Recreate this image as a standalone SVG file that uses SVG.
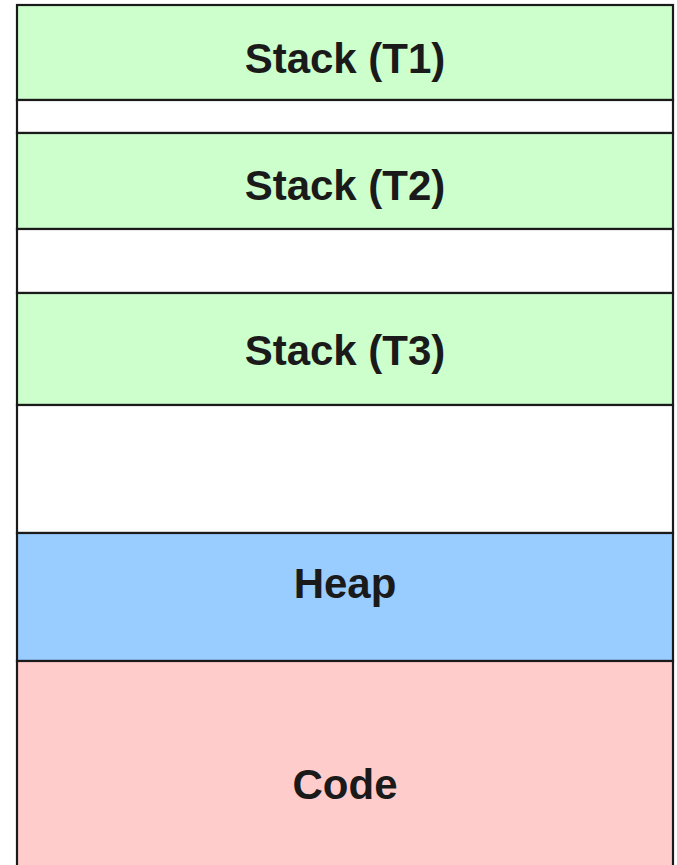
<svg xmlns="http://www.w3.org/2000/svg" width="677" height="865" viewBox="0 0 677 865">
  <style>
    .seg { stroke: #1a1a1a; stroke-width: 2.2; }
    .stack { fill: #ccffcc; }
    .free { fill: #ffffff; }
    .heap { fill: #99ccff; }
    .code { fill: #ffcccc; }
    .lbl { font-family: "Liberation Sans", Arial, sans-serif; font-weight: bold; font-size: 42px; fill: #1a1a1a; text-anchor: middle; }
  </style>
  <rect width="677" height="865" fill="#ffffff"/>
  <g id="stack-t1">
    <rect class="seg stack" x="17" y="5" width="656" height="95"/>
    <text class="lbl" x="345" y="73">Stack (T1)</text>
  </g>
  <g id="gap-1">
    <rect class="seg free" x="17" y="100" width="656" height="33"/>
  </g>
  <g id="stack-t2">
    <rect class="seg stack" x="17" y="133" width="656" height="96"/>
    <text class="lbl" x="345" y="200">Stack (T2)</text>
  </g>
  <g id="gap-2">
    <rect class="seg free" x="17" y="229" width="656" height="64"/>
  </g>
  <g id="stack-t3">
    <rect class="seg stack" x="17" y="293" width="656" height="112"/>
    <text class="lbl" x="345" y="365">Stack (T3)</text>
  </g>
  <g id="gap-3">
    <rect class="seg free" x="17" y="405" width="656" height="128"/>
  </g>
  <g id="heap">
    <rect class="seg heap" x="17" y="533" width="656" height="128"/>
    <text class="lbl" x="345" y="598">Heap</text>
  </g>
  <g id="code">
    <rect class="seg code" x="17" y="661" width="656" height="250"/>
    <text class="lbl" x="345" y="799">Code</text>
  </g>
  <g id="connectors"/>
</svg>
